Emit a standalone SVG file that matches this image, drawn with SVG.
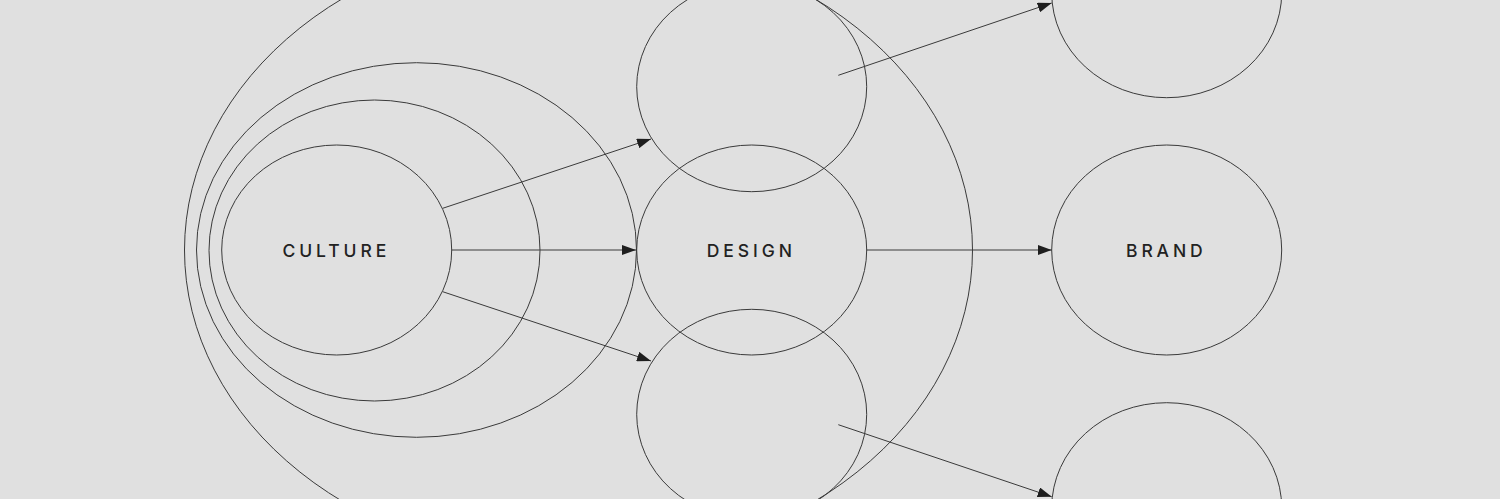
<svg xmlns="http://www.w3.org/2000/svg" width="1500" height="499" viewBox="0 0 1500 499">
<style>
.ring{fill:none;stroke:#3a3a3a;stroke-width:1}
.lbl{font-family:Inter,"Liberation Sans",sans-serif;font-size:17.5px;font-weight:500;letter-spacing:3.9px;fill:#222;text-anchor:middle}
.conn{stroke:#3a3a3a;stroke-width:1;fill:none;marker-end:url(#arr)}
</style>
<defs>
<marker id="arr" viewBox="0 0 14 10" refX="14" refY="5" markerWidth="14" markerHeight="10" markerUnits="userSpaceOnUse" orient="auto">
<path d="M0,0 L14,5 L0,10 Z" fill="#1e1e1e"/>
</marker>
</defs>
<rect width="1500" height="499" fill="#e0e0e0"/>
<g id="outer-ring"><ellipse class="ring" cx="578.5" cy="250" rx="394" ry="314"/></g>
<g id="ring-2"><ellipse class="ring" cx="416.5" cy="250" rx="220" ry="187.3"/></g>
<g id="ring-3"><ellipse class="ring" cx="374.5" cy="250.5" rx="165.5" ry="150.5"/></g>
<g id="culture"><ellipse class="ring" cx="336.7" cy="250" rx="115" ry="105"/><text class="lbl" x="336.3" y="256.7">CULTURE</text></g>
<g id="design-top"><ellipse class="ring" cx="751.7" cy="86.7" rx="115" ry="105"/></g>
<g id="design"><ellipse class="ring" cx="751.7" cy="250" rx="115" ry="105"/><text class="lbl" x="751.3" y="256.7">DESIGN</text></g>
<g id="design-bottom"><ellipse class="ring" cx="751.7" cy="414.3" rx="115" ry="105"/></g>
<g id="brand-top"><ellipse class="ring" cx="1166.7" cy="-7.3" rx="115" ry="105"/></g>
<g id="brand"><ellipse class="ring" cx="1166.7" cy="250" rx="115" ry="105"/><text class="lbl" x="1166.3" y="256.7">BRAND</text></g>
<g id="brand-bottom"><ellipse class="ring" cx="1166.7" cy="507.7" rx="115" ry="105"/></g>
<g id="connectors">
<line class="conn" x1="442.7" y1="208.3" x2="651" y2="139"/>
<line class="conn" x1="451.7" y1="250" x2="636" y2="250"/>
<line class="conn" x1="442.7" y1="291.7" x2="651" y2="361"/>
<line class="conn" x1="838.3" y1="75.3" x2="1051.7" y2="3"/>
<line class="conn" x1="866.7" y1="250" x2="1051.7" y2="250"/>
<line class="conn" x1="838.3" y1="424.7" x2="1051.7" y2="496.7"/>
</g>
</svg>
